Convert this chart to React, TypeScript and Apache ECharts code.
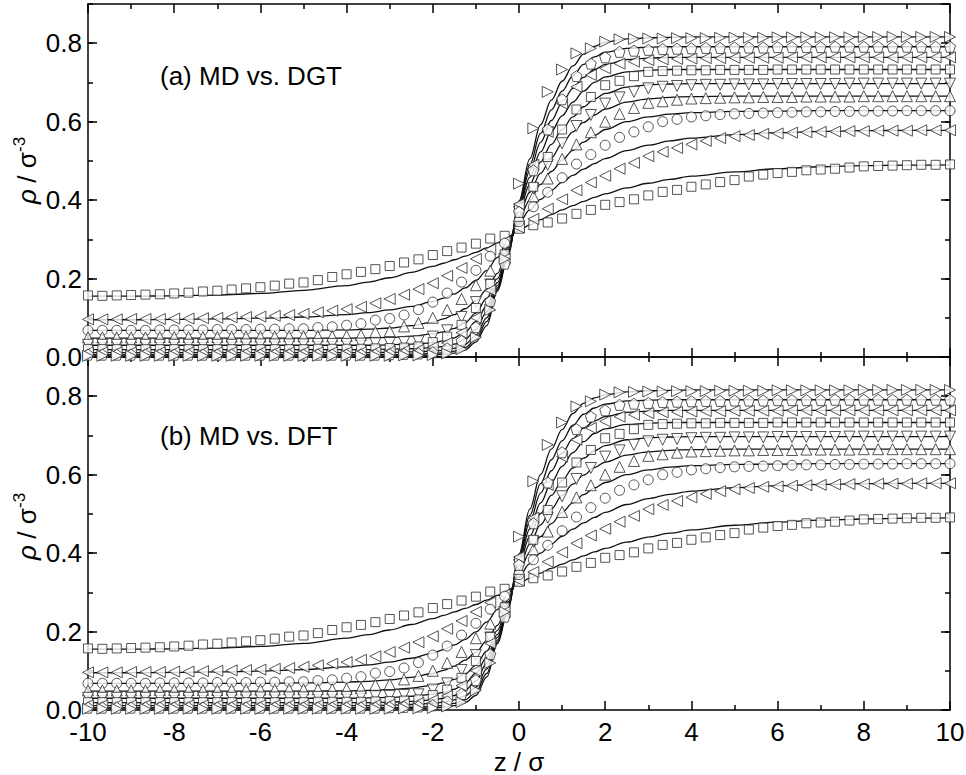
import React, { useEffect, useRef } from "react";
import * as echarts from "echarts";

// z positions of the MD samples (every 1/3 sigma)
const MD_Z = [-10, -9.667, -9.333, -9, -8.667, -8.333, -8, -7.667, -7.333, -7, -6.667, -6.333, -6, -5.667, -5.333, -5, -4.667, -4.333, -4, -3.667, -3.333, -3, -2.667, -2.333, -2, -1.667, -1.333, -1, -0.667, -0.333, 0, 0.333, 0.667, 1, 1.333, 1.667, 2, 2.333, 2.667, 3, 3.333, 3.667, 4, 4.333, 4.667, 5, 5.333, 5.667, 6, 6.333, 6.667, 7, 7.333, 7.667, 8, 8.333, 8.667, 9, 9.333, 9.667, 10];

// MD density profiles (markers), lowest to highest liquid density
const MD_1 = [0.157, 0.156, 0.157, 0.158, 0.159, 0.160, 0.162, 0.164, 0.167, 0.169, 0.172, 0.175, 0.178, 0.182, 0.187, 0.190, 0.196, 0.204, 0.211, 0.217, 0.224, 0.232, 0.241, 0.249, 0.260, 0.270, 0.279, 0.289, 0.302, 0.309, 0.327, 0.336, 0.343, 0.353, 0.365, 0.375, 0.388, 0.395, 0.402, 0.412, 0.421, 0.426, 0.434, 0.440, 0.446, 0.451, 0.460, 0.465, 0.469, 0.472, 0.476, 0.478, 0.480, 0.483, 0.486, 0.487, 0.488, 0.489, 0.490, 0.490, 0.491];
const MD_2 = [0.096, 0.096, 0.096, 0.097, 0.097, 0.097, 0.098, 0.098, 0.099, 0.100, 0.101, 0.102, 0.103, 0.105, 0.107, 0.110, 0.114, 0.118, 0.122, 0.128, 0.137, 0.148, 0.159, 0.173, 0.188, 0.207, 0.227, 0.250, 0.274, 0.294, 0.330, 0.352, 0.378, 0.402, 0.425, 0.445, 0.462, 0.480, 0.495, 0.512, 0.523, 0.533, 0.542, 0.551, 0.558, 0.563, 0.566, 0.569, 0.570, 0.572, 0.573, 0.574, 0.575, 0.576, 0.576, 0.577, 0.577, 0.577, 0.578, 0.578, 0.578];
const MD_3 = [0.068, 0.068, 0.068, 0.068, 0.068, 0.069, 0.069, 0.069, 0.069, 0.070, 0.070, 0.070, 0.071, 0.071, 0.072, 0.072, 0.075, 0.077, 0.081, 0.085, 0.094, 0.098, 0.107, 0.121, 0.140, 0.163, 0.191, 0.221, 0.257, 0.290, 0.345, 0.383, 0.420, 0.457, 0.492, 0.516, 0.540, 0.560, 0.574, 0.587, 0.600, 0.606, 0.612, 0.615, 0.618, 0.620, 0.621, 0.622, 0.623, 0.624, 0.625, 0.625, 0.626, 0.626, 0.627, 0.627, 0.627, 0.628, 0.628, 0.628, 0.628];
const MD_4 = [0.050, 0.050, 0.050, 0.050, 0.050, 0.051, 0.051, 0.051, 0.051, 0.051, 0.052, 0.052, 0.052, 0.052, 0.053, 0.053, 0.053, 0.053, 0.054, 0.056, 0.064, 0.066, 0.078, 0.087, 0.100, 0.120, 0.148, 0.183, 0.220, 0.262, 0.360, 0.410, 0.455, 0.505, 0.542, 0.573, 0.600, 0.620, 0.635, 0.648, 0.652, 0.656, 0.659, 0.660, 0.661, 0.662, 0.662, 0.663, 0.663, 0.663, 0.664, 0.664, 0.664, 0.664, 0.665, 0.665, 0.665, 0.665, 0.665, 0.665, 0.665];
const MD_5 = [0.031, 0.031, 0.031, 0.031, 0.031, 0.031, 0.031, 0.031, 0.031, 0.031, 0.031, 0.032, 0.032, 0.032, 0.032, 0.032, 0.033, 0.033, 0.033, 0.034, 0.035, 0.036, 0.038, 0.040, 0.052, 0.068, 0.102, 0.140, 0.185, 0.250, 0.370, 0.430, 0.490, 0.545, 0.589, 0.617, 0.646, 0.662, 0.676, 0.685, 0.689, 0.691, 0.693, 0.694, 0.694, 0.695, 0.695, 0.695, 0.696, 0.696, 0.696, 0.696, 0.696, 0.697, 0.697, 0.697, 0.697, 0.697, 0.697, 0.697, 0.697];
const MD_6 = [0.020, 0.020, 0.020, 0.020, 0.020, 0.020, 0.020, 0.020, 0.020, 0.020, 0.020, 0.020, 0.020, 0.020, 0.020, 0.020, 0.021, 0.021, 0.021, 0.021, 0.022, 0.023, 0.024, 0.027, 0.038, 0.052, 0.082, 0.125, 0.186, 0.262, 0.380, 0.434, 0.510, 0.580, 0.631, 0.663, 0.693, 0.704, 0.716, 0.727, 0.729, 0.730, 0.731, 0.731, 0.732, 0.732, 0.732, 0.732, 0.733, 0.733, 0.733, 0.733, 0.733, 0.733, 0.733, 0.733, 0.733, 0.733, 0.733, 0.733, 0.733];
const MD_7 = [0.012, 0.012, 0.012, 0.012, 0.012, 0.012, 0.012, 0.012, 0.012, 0.012, 0.012, 0.012, 0.012, 0.012, 0.012, 0.012, 0.012, 0.012, 0.012, 0.012, 0.013, 0.014, 0.016, 0.018, 0.025, 0.036, 0.062, 0.100, 0.170, 0.250, 0.390, 0.490, 0.574, 0.646, 0.689, 0.719, 0.736, 0.748, 0.753, 0.757, 0.759, 0.760, 0.761, 0.762, 0.762, 0.763, 0.763, 0.763, 0.763, 0.764, 0.764, 0.764, 0.764, 0.764, 0.764, 0.764, 0.764, 0.764, 0.764, 0.764, 0.764];
const MD_8 = [0.006, 0.006, 0.006, 0.006, 0.006, 0.006, 0.006, 0.006, 0.006, 0.006, 0.006, 0.006, 0.006, 0.006, 0.006, 0.006, 0.006, 0.006, 0.006, 0.006, 0.006, 0.007, 0.008, 0.009, 0.012, 0.022, 0.041, 0.076, 0.142, 0.238, 0.370, 0.476, 0.580, 0.657, 0.716, 0.748, 0.764, 0.778, 0.781, 0.783, 0.785, 0.786, 0.787, 0.788, 0.788, 0.789, 0.789, 0.789, 0.790, 0.790, 0.790, 0.790, 0.791, 0.791, 0.791, 0.791, 0.791, 0.791, 0.791, 0.791, 0.791];
const MD_9 = [0.003, 0.003, 0.003, 0.003, 0.003, 0.003, 0.003, 0.003, 0.003, 0.003, 0.003, 0.003, 0.003, 0.003, 0.003, 0.003, 0.003, 0.003, 0.003, 0.003, 0.003, 0.003, 0.004, 0.004, 0.005, 0.009, 0.020, 0.050, 0.120, 0.250, 0.442, 0.583, 0.676, 0.733, 0.774, 0.787, 0.804, 0.810, 0.811, 0.812, 0.812, 0.813, 0.813, 0.813, 0.814, 0.814, 0.814, 0.814, 0.815, 0.815, 0.815, 0.815, 0.815, 0.815, 0.816, 0.816, 0.816, 0.816, 0.816, 0.816, 0.816];

// z positions of the theory curves
const CURVE_Z = [-10, -9, -8, -7, -6, -5, -4, -3.5, -3, -2.5, -2, -1.75, -1.5, -1.25, -1, -0.75, -0.5, -0.25, 0, 0.25, 0.5, 0.75, 1, 1.25, 1.5, 1.75, 2, 2.5, 3, 3.5, 4, 5, 6, 7, 8, 9, 10];

// DGT curves (panel a)
const DGT_1 = [0.155, 0.155, 0.156, 0.158, 0.162, 0.170, 0.182, 0.191, 0.202, 0.216, 0.231, 0.239, 0.248, 0.257, 0.267, 0.278, 0.291, 0.307, 0.322, 0.337, 0.350, 0.363, 0.375, 0.386, 0.397, 0.407, 0.416, 0.431, 0.443, 0.453, 0.461, 0.472, 0.480, 0.485, 0.488, 0.489, 0.490];
const DGT_2 = [0.095, 0.095, 0.096, 0.097, 0.099, 0.102, 0.108, 0.113, 0.120, 0.129, 0.141, 0.150, 0.161, 0.176, 0.195, 0.220, 0.254, 0.300, 0.342, 0.375, 0.402, 0.425, 0.445, 0.463, 0.479, 0.493, 0.506, 0.526, 0.540, 0.551, 0.558, 0.567, 0.572, 0.575, 0.577, 0.578, 0.578];
const DGT_3 = [0.068, 0.068, 0.068, 0.068, 0.068, 0.068, 0.069, 0.071, 0.074, 0.080, 0.089, 0.097, 0.108, 0.123, 0.143, 0.172, 0.213, 0.285, 0.352, 0.400, 0.440, 0.473, 0.502, 0.527, 0.548, 0.565, 0.580, 0.600, 0.612, 0.619, 0.623, 0.626, 0.627, 0.628, 0.628, 0.628, 0.628];
const DGT_4 = [0.048, 0.048, 0.048, 0.048, 0.048, 0.048, 0.048, 0.049, 0.050, 0.053, 0.059, 0.064, 0.073, 0.088, 0.112, 0.150, 0.200, 0.280, 0.362, 0.420, 0.468, 0.508, 0.544, 0.574, 0.598, 0.617, 0.632, 0.650, 0.658, 0.662, 0.664, 0.665, 0.665, 0.665, 0.665, 0.665, 0.665];
const DGT_5 = [0.030, 0.030, 0.030, 0.030, 0.030, 0.030, 0.030, 0.030, 0.031, 0.033, 0.036, 0.041, 0.049, 0.064, 0.090, 0.130, 0.190, 0.275, 0.372, 0.440, 0.497, 0.542, 0.580, 0.612, 0.638, 0.658, 0.672, 0.688, 0.694, 0.696, 0.697, 0.697, 0.697, 0.697, 0.697, 0.697, 0.697];
const DGT_6 = [0.019, 0.019, 0.019, 0.019, 0.019, 0.019, 0.019, 0.019, 0.020, 0.021, 0.024, 0.027, 0.033, 0.045, 0.070, 0.115, 0.182, 0.270, 0.380, 0.458, 0.523, 0.575, 0.615, 0.650, 0.678, 0.700, 0.714, 0.727, 0.731, 0.733, 0.733, 0.733, 0.733, 0.733, 0.733, 0.733, 0.733];
const DGT_7 = [0.011, 0.011, 0.011, 0.011, 0.011, 0.011, 0.011, 0.011, 0.012, 0.013, 0.015, 0.017, 0.022, 0.032, 0.055, 0.100, 0.176, 0.266, 0.386, 0.475, 0.547, 0.603, 0.648, 0.685, 0.713, 0.733, 0.746, 0.758, 0.762, 0.764, 0.764, 0.764, 0.764, 0.764, 0.764, 0.764, 0.764];
const DGT_8 = [0.006, 0.006, 0.006, 0.006, 0.006, 0.006, 0.006, 0.006, 0.006, 0.007, 0.009, 0.011, 0.015, 0.024, 0.045, 0.090, 0.172, 0.262, 0.392, 0.490, 0.570, 0.630, 0.678, 0.717, 0.746, 0.765, 0.777, 0.787, 0.790, 0.791, 0.791, 0.791, 0.791, 0.791, 0.791, 0.791, 0.791];
const DGT_9 = [0.003, 0.003, 0.003, 0.003, 0.003, 0.003, 0.003, 0.003, 0.003, 0.004, 0.005, 0.007, 0.010, 0.018, 0.038, 0.080, 0.168, 0.258, 0.398, 0.505, 0.592, 0.655, 0.703, 0.742, 0.772, 0.792, 0.803, 0.811, 0.814, 0.815, 0.816, 0.816, 0.816, 0.816, 0.816, 0.816, 0.816];

// DFT curves (panel b)
const DFT_1 = [0.155, 0.155, 0.156, 0.158, 0.162, 0.170, 0.183, 0.192, 0.204, 0.218, 0.233, 0.241, 0.250, 0.259, 0.269, 0.280, 0.292, 0.307, 0.322, 0.336, 0.349, 0.361, 0.372, 0.383, 0.393, 0.403, 0.412, 0.428, 0.441, 0.451, 0.459, 0.471, 0.479, 0.484, 0.487, 0.489, 0.490];
const DFT_2 = [0.095, 0.095, 0.096, 0.097, 0.099, 0.103, 0.110, 0.115, 0.122, 0.132, 0.145, 0.154, 0.166, 0.180, 0.199, 0.224, 0.256, 0.298, 0.340, 0.373, 0.400, 0.423, 0.443, 0.461, 0.477, 0.491, 0.504, 0.524, 0.539, 0.550, 0.558, 0.567, 0.572, 0.575, 0.577, 0.578, 0.578];
const DFT_3 = [0.068, 0.068, 0.068, 0.068, 0.068, 0.069, 0.071, 0.073, 0.077, 0.083, 0.093, 0.101, 0.112, 0.127, 0.147, 0.176, 0.216, 0.282, 0.352, 0.402, 0.442, 0.475, 0.504, 0.528, 0.549, 0.566, 0.580, 0.600, 0.612, 0.619, 0.623, 0.626, 0.627, 0.628, 0.628, 0.628, 0.628];
const DFT_4 = [0.048, 0.048, 0.048, 0.048, 0.048, 0.048, 0.049, 0.050, 0.052, 0.056, 0.063, 0.069, 0.078, 0.092, 0.114, 0.150, 0.203, 0.276, 0.362, 0.423, 0.472, 0.512, 0.547, 0.576, 0.599, 0.618, 0.632, 0.650, 0.658, 0.662, 0.664, 0.665, 0.665, 0.665, 0.665, 0.665, 0.665];
const DFT_5 = [0.030, 0.030, 0.030, 0.030, 0.030, 0.030, 0.030, 0.031, 0.032, 0.035, 0.040, 0.045, 0.053, 0.068, 0.094, 0.134, 0.193, 0.272, 0.372, 0.443, 0.501, 0.547, 0.585, 0.617, 0.642, 0.661, 0.674, 0.689, 0.694, 0.696, 0.697, 0.697, 0.697, 0.697, 0.697, 0.697, 0.697];
const DFT_6 = [0.019, 0.019, 0.019, 0.019, 0.019, 0.019, 0.019, 0.019, 0.020, 0.022, 0.026, 0.030, 0.037, 0.050, 0.074, 0.119, 0.185, 0.268, 0.380, 0.462, 0.528, 0.580, 0.621, 0.656, 0.684, 0.705, 0.717, 0.728, 0.731, 0.733, 0.733, 0.733, 0.733, 0.733, 0.733, 0.733, 0.733];
const DFT_7 = [0.011, 0.011, 0.011, 0.011, 0.011, 0.011, 0.011, 0.011, 0.012, 0.014, 0.017, 0.020, 0.026, 0.036, 0.058, 0.104, 0.178, 0.264, 0.386, 0.480, 0.553, 0.610, 0.655, 0.692, 0.719, 0.737, 0.748, 0.759, 0.762, 0.764, 0.764, 0.764, 0.764, 0.764, 0.764, 0.764, 0.764];
const DFT_8 = [0.006, 0.006, 0.006, 0.006, 0.006, 0.006, 0.006, 0.006, 0.006, 0.007, 0.009, 0.012, 0.017, 0.026, 0.046, 0.093, 0.173, 0.260, 0.392, 0.496, 0.577, 0.638, 0.686, 0.726, 0.754, 0.770, 0.780, 0.788, 0.790, 0.791, 0.791, 0.791, 0.791, 0.791, 0.791, 0.791, 0.791];
const DFT_9 = [0.003, 0.003, 0.003, 0.003, 0.003, 0.003, 0.003, 0.003, 0.003, 0.004, 0.005, 0.007, 0.011, 0.019, 0.037, 0.084, 0.169, 0.256, 0.398, 0.512, 0.600, 0.665, 0.715, 0.756, 0.782, 0.796, 0.804, 0.811, 0.814, 0.815, 0.816, 0.816, 0.816, 0.816, 0.816, 0.816, 0.816];

const MD_SETS = [MD_1, MD_2, MD_3, MD_4, MD_5, MD_6, MD_7, MD_8, MD_9];
const DGT_SETS = [DGT_1, DGT_2, DGT_3, DGT_4, DGT_5, DGT_6, DGT_7, DGT_8, DGT_9];
const DFT_SETS = [DFT_1, DFT_2, DFT_3, DFT_4, DFT_5, DFT_6, DFT_7, DFT_8, DFT_9];

const PENTAGON = "path://M50,0 L97.6,34.5 L79.4,90.5 L20.6,90.5 L2.4,34.5 Z";
const MARKERS = [
  { symbol: "rect", rotate: 0, size: 9 },
  { symbol: "triangle", rotate: 90, size: 11 },
  { symbol: "circle", rotate: 0, size: 10 },
  { symbol: "triangle", rotate: 0, size: 11 },
  { symbol: "triangle", rotate: 180, size: 11 },
  { symbol: "rect", rotate: 0, size: 9 },
  { symbol: "triangle", rotate: 90, size: 11 },
  { symbol: PENTAGON, rotate: 0, size: 11 },
  { symbol: "triangle", rotate: -90, size: 11 },
];

const FONT = "'Liberation Sans', Arial, Helvetica, sans-serif";
const INK = "#000000";

const G0_TOP = 4;
const G_H = 353;
const G1_TOP = 357;
const G_LEFT = 88;
const G_W = 862;

function xAxisDef(grid: number, position: string, labels: boolean) {
  return {
    type: "value",
    gridIndex: grid,
    position,
    min: -10,
    max: 10,
    interval: 2,
    axisLine: { show: true, onZero: false, lineStyle: { color: INK, width: 1.5 } },
    axisTick: { show: true, inside: true, length: 9, lineStyle: { color: INK, width: 1.5 } },
    minorTick: { show: true, splitNumber: 2, length: 5, lineStyle: { color: INK, width: 1.5 } },
    splitLine: { show: false },
    axisLabel: {
      show: labels,
      fontSize: 26,
      lineHeight: 22,
      fontFamily: FONT,
      color: "#000",
      margin: 11,
    },
  };
}

function yMajor(grid: number, position: string, labels: boolean) {
  return {
    type: "value",
    gridIndex: grid,
    position,
    min: 0,
    max: 0.9,
    interval: 0.2,
    axisLine: { show: true, onZero: false, lineStyle: { color: INK, width: 1.5 } },
    axisTick: { show: true, inside: true, length: 9, lineStyle: { color: INK, width: 1.5 } },
    splitLine: { show: false },
    axisLabel: {
      show: labels,
      showMaxLabel: false,
      fontSize: 26,
      lineHeight: 20,
      fontFamily: FONT,
      color: "#000",
      margin: 6,
      formatter: (v: number) => (v > 0.85 ? "" : v.toFixed(1)),
    },
  };
}

function yMinor(grid: number, position: string) {
  return {
    type: "value",
    gridIndex: grid,
    position,
    min: 0,
    max: 0.9,
    interval: 0.1,
    axisLine: { show: false, onZero: false },
    axisTick: { show: true, inside: true, length: 5, lineStyle: { color: INK, width: 1.5 } },
    splitLine: { show: false },
    axisLabel: { show: false },
  };
}

function buildSeries() {
  const series: any[] = [];
  const panels = [
    { curves: DGT_SETS, x: 0, y: 0 },
    { curves: DFT_SETS, x: 2, y: 4 },
  ];
  panels.forEach((p, pi) => {
    p.curves.forEach((c, i) => {
      series.push({
        type: "line",
        name: (pi === 0 ? "DGT " : "DFT ") + (i + 1),
        xAxisIndex: p.x,
        yAxisIndex: p.y,
        data: CURVE_Z.map((z, k) => [z, c[k]]),
        showSymbol: false,
        smooth: 0.35,
        smoothMonotone: "x",
        lineStyle: { color: "#111", width: 1.3 },
        z: 2,
        silent: true,
      });
    });
    MD_SETS.forEach((m, i) => {
      const mk = MARKERS[i];
      series.push({
        type: "scatter",
        name: "MD " + (i + 1),
        xAxisIndex: p.x,
        yAxisIndex: p.y,
        data: MD_Z.map((z, k) => [z, m[k]]),
        symbol: mk.symbol,
        symbolRotate: mk.rotate,
        symbolSize: mk.size,
        itemStyle: { color: "#ffffff", borderColor: "#2a2a2a", borderWidth: 1 },
        z: 3,
        silent: true,
      });
    });
  });
  return series;
}

function yTitle(cx: number, baseY: number) {
  return {
    type: "group",
    x: cx,
    y: baseY,
    rotation: Math.PI / 2,
    children: [
      {
        type: "text",
        x: 0,
        y: 0,
        style: { text: "ρ", fontSize: 26, fontStyle: "italic", fontFamily: FONT, fill: "#000", align: "left", verticalAlign: "middle" },
      },
      {
        type: "text",
        x: 14,
        y: 0,
        style: { text: " / σ", fontSize: 26, fontFamily: FONT, fill: "#000", align: "left", verticalAlign: "middle" },
      },
      {
        type: "text",
        x: 52,
        y: -8,
        style: { text: "-3", fontSize: 17, fontFamily: FONT, fill: "#000", align: "left", verticalAlign: "middle" },
      },
    ],
  };
}

export default function App() {
  const ref = useRef<HTMLDivElement>(null);
  useEffect(() => {
    document.body.style.margin = "0";
    if (!ref.current) return;
    const chart = echarts.init(ref.current, null, { renderer: "svg" });
    const option: any = {
      animation: false,
      backgroundColor: "#ffffff",
      grid: [
        { left: G_LEFT, top: G0_TOP, width: G_W, height: G_H, containLabel: false, outerBoundsMode: "none" },
        { left: G_LEFT, top: G1_TOP, width: G_W, height: G_H, containLabel: false, outerBoundsMode: "none" },
      ],
      xAxis: [
        xAxisDef(0, "bottom", false),
        xAxisDef(0, "top", false),
        xAxisDef(1, "bottom", true),
        xAxisDef(1, "top", false),
      ],
      yAxis: [
        yMajor(0, "left", true),
        yMinor(0, "left"),
        yMajor(0, "right", false),
        yMinor(0, "right"),
        yMajor(1, "left", true),
        yMinor(1, "left"),
        yMajor(1, "right", false),
        yMinor(1, "right"),
      ],
      series: buildSeries(),
      graphic: [
        {
          type: "text",
          x: 160,
          y: 76,
          style: { text: "(a) MD vs. DGT", fontSize: 26, fontFamily: FONT, fill: "#000", align: "left", verticalAlign: "middle" },
        },
        {
          type: "text",
          x: 160,
          y: 436,
          style: { text: "(b) MD vs. DFT", fontSize: 26, fontFamily: FONT, fill: "#000", align: "left", verticalAlign: "middle" },
        },
        {
          type: "text",
          x: 519,
          y: 762,
          style: { text: "z / σ", fontSize: 26, lineHeight: 24, fontFamily: FONT, fill: "#000", align: "center", verticalAlign: "middle" },
        },
        yTitle(27, 204),
        yTitle(27, 204 + G_H + 3),
      ],
    };
    chart.setOption(option);
    return () => chart.dispose();
  }, []);
  return <div ref={ref} style={{ width: 966, height: 775 }} />;
}
